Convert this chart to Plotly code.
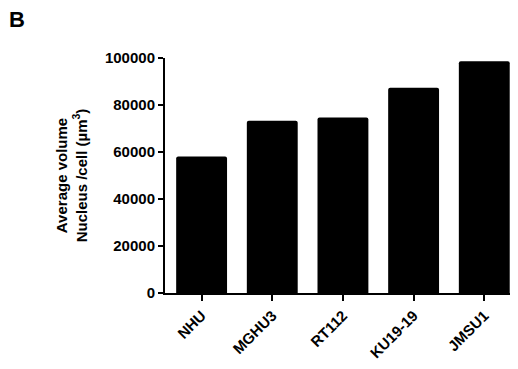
import plotly.graph_objects as go

# Average nucleus volume per cell for each cell line
cell_lines = ["NHU", "MGHU3", "RT112", "KU19-19", "JMSU1"]
avg_volume = [58100, 73300, 74700, 87300, 98600]
y_ticks = [0, 20000, 40000, 60000, 80000, 100000]

FONT = "Liberation Sans, Arial, sans-serif"
PLOT_W = 345.0
PLOT_H = 234.5

fig = go.Figure(
    go.Bar(
        x=cell_lines,
        y=avg_volume,
        marker=dict(color="black", line=dict(width=0), cornerradius=2),
        width=0.72,
    )
)

fig.update_layout(
    width=518,
    height=369,
    margin=dict(l=165, r=8, t=58, b=76),
    paper_bgcolor="white",
    plot_bgcolor="white",
    showlegend=False,
    font=dict(family=FONT, size=15, color="black", weight="bold"),
    bargap=0.28,
    annotations=[
        dict(
            text="B",
            xref="paper", yref="paper",
            x=(17 - 165) / PLOT_W, y=1 + (58.5 - 20) / PLOT_H,
            xanchor="center", yanchor="middle",
            showarrow=False,
            font=dict(family=FONT, size=22, color="black", weight="bold"),
        )
    ],
)

fig.update_xaxes(
    range=[-0.518, 4.364],
    showline=True, linecolor="black", linewidth=2,
    ticks="outside", ticklen=6, tickwidth=2, tickcolor="black",
    tickangle=-45,
    tickfont=dict(family=FONT, size=15, color="black", weight="bold"),
    showgrid=False, zeroline=False,
)

fig.update_yaxes(
    range=[0, 100000],
    tickvals=y_ticks,
    ticktext=[str(v) for v in y_ticks],
    showline=True, linecolor="black", linewidth=2,
    ticks="outside", ticklen=5, tickwidth=2, tickcolor="black",
    tickfont=dict(family=FONT, size=15, color="black", weight="bold"),
    showgrid=False, zeroline=False,
    title=dict(
        text="Average volume<br>Nucleus /cell (µm<sup>3</sup>)",
        font=dict(family=FONT, size=15, color="black", weight="bold"),
        standoff=14,
    ),
)

fig.write_html("out.html")
